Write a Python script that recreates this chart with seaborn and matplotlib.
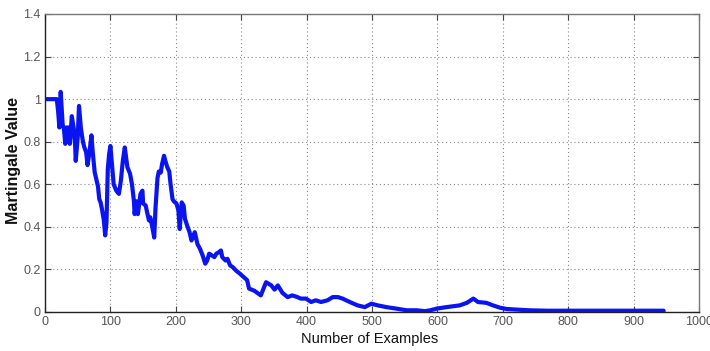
import matplotlib
matplotlib.use("Agg")
import matplotlib.pyplot as plt
import seaborn as sns
import pandas as pd

examples = [0, 18, 20, 22, 24, 27, 29, 31, 33, 35, 36, 38, 41, 44, 46, 47, 50, 52, 55, 58,
            60, 63, 65, 68, 71, 73, 75, 76, 81, 83, 85, 87, 90, 92, 94, 96, 98, 100, 102,
            105, 109, 113, 116, 119, 122, 126, 130, 133, 136, 137, 140, 142, 146, 149, 150,
            154, 156, 159, 161, 164, 167, 169, 172, 174, 177, 179, 182, 184, 187, 190, 192,
            195, 197, 201, 204, 206, 209, 212, 214, 218, 221, 224, 226, 229, 233, 237, 241,
            245, 248, 251, 255, 259, 262, 266, 269, 271, 276, 279, 283, 287, 292, 298, 305,
            309, 312, 320, 330, 338, 346, 351, 356, 363, 371, 378, 386, 391, 399, 407, 414,
            422, 432, 440, 448, 455, 466, 478, 489, 499, 509, 522, 537, 553, 568, 581, 589,
            599, 614, 634, 645, 655, 662, 675, 685, 696, 706, 722, 740, 768, 946]
martingale = [1.0, 1.0, 0.945, 0.867, 1.034, 0.88, 0.86, 0.79, 0.867, 0.84, 0.867, 0.79,
              0.92, 0.86, 0.79, 0.71, 0.82, 0.968, 0.86, 0.80, 0.775, 0.75, 0.69, 0.75, 0.83,
              0.75, 0.69, 0.656, 0.59, 0.53, 0.515, 0.485, 0.43, 0.36, 0.42, 0.67, 0.74,
              0.78, 0.71, 0.60, 0.57, 0.555, 0.617, 0.71, 0.773, 0.68, 0.65, 0.60, 0.52, 0.46,
              0.52, 0.46, 0.555, 0.57, 0.51, 0.50, 0.47, 0.43, 0.445, 0.40, 0.35, 0.49, 0.63,
              0.66, 0.655, 0.695, 0.734, 0.71, 0.68, 0.66, 0.60, 0.53, 0.52, 0.51, 0.477,
              0.39, 0.515, 0.50, 0.438, 0.40, 0.375, 0.336, 0.35, 0.375, 0.32, 0.297, 0.266,
              0.227, 0.242, 0.274, 0.266, 0.258, 0.274, 0.281, 0.289, 0.258, 0.242, 0.25,
              0.219, 0.211, 0.195, 0.18, 0.161, 0.15, 0.11, 0.10, 0.078, 0.14, 0.125, 0.105,
              0.125, 0.09, 0.07, 0.078, 0.07, 0.063, 0.063, 0.047, 0.055, 0.047, 0.055, 0.07,
              0.07, 0.063, 0.047, 0.031, 0.023, 0.039, 0.031, 0.023, 0.016, 0.008, 0.008,
              0.004, 0.008, 0.016, 0.023, 0.031, 0.043, 0.063, 0.047, 0.043, 0.031, 0.02,
              0.014, 0.011, 0.008, 0.006, 0.006]

x_ticks = [0, 100, 200, 300, 400, 500, 600, 700, 800, 900, 1000]
y_ticks = [0, 0.2, 0.4, 0.6, 0.8, 1, 1.2, 1.4]
y_tick_labels = ["0", "0.2", "0.4", "0.6", "0.8", "1", "1.2", "1.4"]
x_label = "Number of Examples"
y_label = "Martingale Value"

sns.set_style("white")
plt.rcParams['font.family'] = ['Liberation Sans Narrow', 'Liberation Sans', 'DejaVu Sans']

df = pd.DataFrame({"x": examples, "y": martingale})

fig = plt.figure(figsize=(7.1, 3.51), dpi=100)
ax = fig.add_axes([45 / 710, 39 / 351, 654 / 710, 298 / 351])

sns.lineplot(data=df, x="x", y="y", ax=ax, color="#0a14f0", linewidth=3.0, sort=False,
             estimator=None)

ax.set_xlim(0, 1000)
ax.set_ylim(0, 1.4)
ax.set_xticks(x_ticks)
ax.set_xticklabels([str(t) for t in x_ticks])
ax.set_yticks(y_ticks)
ax.set_yticklabels(y_tick_labels)

ax.grid(True, linestyle=(0, (1, 2.5)), color="#888888", linewidth=0.8)
ax.tick_params(axis="both", direction="in", length=4, width=0.8, color="#444444",
               labelcolor="#555555", labelsize=9, top=True, right=True,
               bottom=True, left=True, pad=3)

for side in ["left", "bottom"]:
    ax.spines[side].set_color("#222222")
    ax.spines[side].set_linewidth(1.0)
for side in ["top", "right"]:
    ax.spines[side].set_color("#777777")
    ax.spines[side].set_linewidth(1.0)

ax.set_xlabel(x_label, fontsize=10.5, color="#111111")
ax.xaxis.set_label_coords(0.497, -0.068)
ax.set_ylabel(y_label, fontsize=11.5, fontweight="bold", color="#111111",
              family=['Liberation Sans', 'DejaVu Sans'])
ax.yaxis.set_label_coords(-0.037, 0.507)

fig.savefig("out.png", dpi=100)
